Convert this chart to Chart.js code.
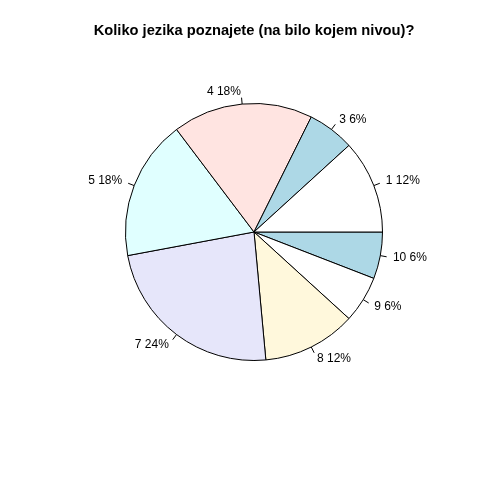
<!DOCTYPE html>
<html><head><meta charset="utf-8">
<script src="https://cdn.jsdelivr.net/npm/chart.js@4"></script>
<style>html,body{margin:0;padding:0;background:#fff}#wrap{width:480px;height:480px;position:relative}</style>
</head><body><div id="wrap"><canvas id="c" width="480" height="480"></canvas></div>
<script>
// Data in R's counterclockwise order starting at 3 o'clock
const categories = ["1","3","4","5","7","8","9","10"];
const counts = [2,1,3,3,4,2,1,1];
const percentLabels = ["12%","6%","18%","18%","24%","12%","6%","6%"];
const sliceColors = ["#FFFFFF","#ADD8E6","#FFE4E1","#E0FFFF","#E6E6FA","#FFF8DC","#FFFFFF","#ADD8E6"];
const titleText = "Koliko jezika poznajete (na bilo kojem nivou)?";

// Chart.js draws clockwise, so reverse to reproduce counterclockwise order
const rLabels = categories.slice().reverse();
const rCounts = counts.slice().reverse();
const rColors = sliceColors.slice().reverse();
const rPct = percentLabels.slice().reverse();

const labelPlugin = {
  id: 'rlabels',
  afterDraw(chart) {
    const ctx = chart.ctx;
    const meta = chart.getDatasetMeta(0);
    ctx.save();
    ctx.fillStyle = '#000';
    ctx.font = 'bold 14.7px "Liberation Sans", Arial, sans-serif';
    ctx.textAlign = 'center';
    ctx.textBaseline = 'middle';
    ctx.fillText(titleText, 254, 31);
    ctx.font = '12px "Liberation Sans", Arial, sans-serif';
    ctx.strokeStyle = '#000';
    ctx.lineWidth = 1;
    meta.data.forEach((arc, i) => {
      const p = arc.getProps(['x','y','startAngle','endAngle','outerRadius'], true);
      const a = (p.startAngle + p.endAngle) / 2;
      const r = p.outerRadius;
      const cx = Math.cos(a), cy = Math.sin(a);
      ctx.beginPath();
      ctx.moveTo(p.x + cx * r, p.y + cy * r);
      ctx.lineTo(p.x + cx * r * 1.05, p.y + cy * r * 1.05);
      ctx.stroke();
      ctx.textAlign = cx > 0 ? 'left' : 'right';
      ctx.fillText(rLabels[i] + ' ' + rPct[i], p.x + cx * r * 1.1, p.y + cy * r * 1.1);
    });
    ctx.restore();
  }
};

new Chart(document.getElementById('c'), {
  type: 'pie',
  data: {
    labels: rLabels,
    datasets: [{
      data: rCounts,
      backgroundColor: rColors,
      borderColor: '#000',
      borderWidth: 1,
      hoverOffset: 0
    }]
  },
  options: {
    responsive: false,
    animation: false,
    rotation: 90,
    layout: { padding: { left: 125, right: 97, top: 103, bottom: 119 } },
    plugins: { legend: { display: false }, tooltip: { enabled: false }, title: { display: false } },
    events: []
  },
  plugins: [labelPlugin]
});
</script></body></html>
